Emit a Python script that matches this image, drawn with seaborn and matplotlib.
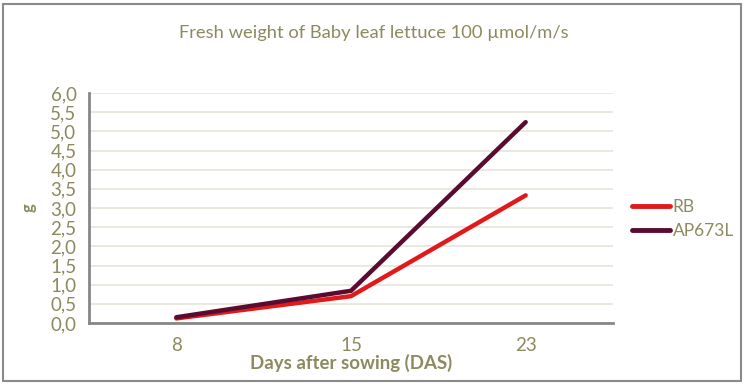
import pandas as pd
import seaborn as sns
import matplotlib.pyplot as plt
import matplotlib.ticker as mticker
from matplotlib.patches import Rectangle

# data
days = ['8', '15', '23']
rb_weight = [0.12, 0.70, 3.33]
ap673l_weight = [0.15, 0.84, 5.24]

y_ticks = [i * 0.5 for i in range(13)]

olive = '#8c8a5e'
axis_gray = '#878787'
grid_col = '#e9e6dc'

df = pd.DataFrame({
    'DAS': days * 2,
    'g': rb_weight + ap673l_weight,
    'series': ['RB'] * 3 + ['AP673L'] * 3,
})

sns.set_style('white')
plt.rcParams['font.family'] = ['Lato', 'DejaVu Sans']

fig = plt.figure(figsize=(7.44, 3.84), dpi=100)
ax = fig.add_axes([89 / 744, 1 - 323 / 384, (613 - 89) / 744, (323 - 93) / 384])

sns.lineplot(data=df, x='DAS', y='g', hue='series', sort=False,
             palette={'RB': '#e0191b', 'AP673L': '#5a0b30'},
             linewidth=3.2, ax=ax, solid_capstyle='round')

ax.set_xlim(-0.5, 2.5)
ax.set_ylim(0, 6.0)
ax.set_yticks(y_ticks)
ax.yaxis.set_major_formatter(mticker.FuncFormatter(lambda v, p: f'{v:.1f}'.replace('.', ',')))
ax.xaxis.set_minor_locator(mticker.FixedLocator([-0.5, 0.5, 1.5, 2.5]))
ax.tick_params(axis='x', which='major', length=0, pad=10, labelsize=13.5, labelcolor=olive)
ax.tick_params(axis='x', which='minor', length=5, width=1.5, color=axis_gray, direction='out')
ax.tick_params(axis='y', length=5, width=1.5, color=axis_gray, direction='out',
               labelsize=13.5, labelcolor=olive, pad=4)
ax.yaxis.grid(True, color=grid_col, linewidth=1.3)
ax.set_axisbelow(True)

for s in ['top', 'right']:
    ax.spines[s].set_visible(False)
for s in ['left', 'bottom']:
    ax.spines[s].set_color(axis_gray)
    ax.spines[s].set_linewidth(2)

ax.set_xlabel('Days after sowing (DAS)', fontsize=13.4, fontweight='bold', color=olive, labelpad=0)
ax.set_ylabel('g', fontsize=12, fontweight='bold', color=olive, labelpad=10)

fig.text(374 / 744, 1 - 33 / 384, 'Fresh weight of Baby leaf lettuce 100 µmol/m/s',
         ha='center', va='center', fontsize=13.2, color=olive)

leg = ax.legend(loc='center left', bbox_to_anchor=(536 / 524, 0.452),
                frameon=False, fontsize=12.5, handlelength=2.2, handletextpad=0.15,
                labelspacing=0.5, borderaxespad=0)
for t in leg.get_texts():
    t.set_color(olive)
for h in leg.get_lines():
    h.set_linewidth(3.5)

fig.patches.append(Rectangle((3 / 744, 3 / 384), 738 / 744, 377 / 384, transform=fig.transFigure,
                             fill=False, edgecolor='#8a8a8a', linewidth=1.5))

fig.savefig('out.png', dpi=100)
